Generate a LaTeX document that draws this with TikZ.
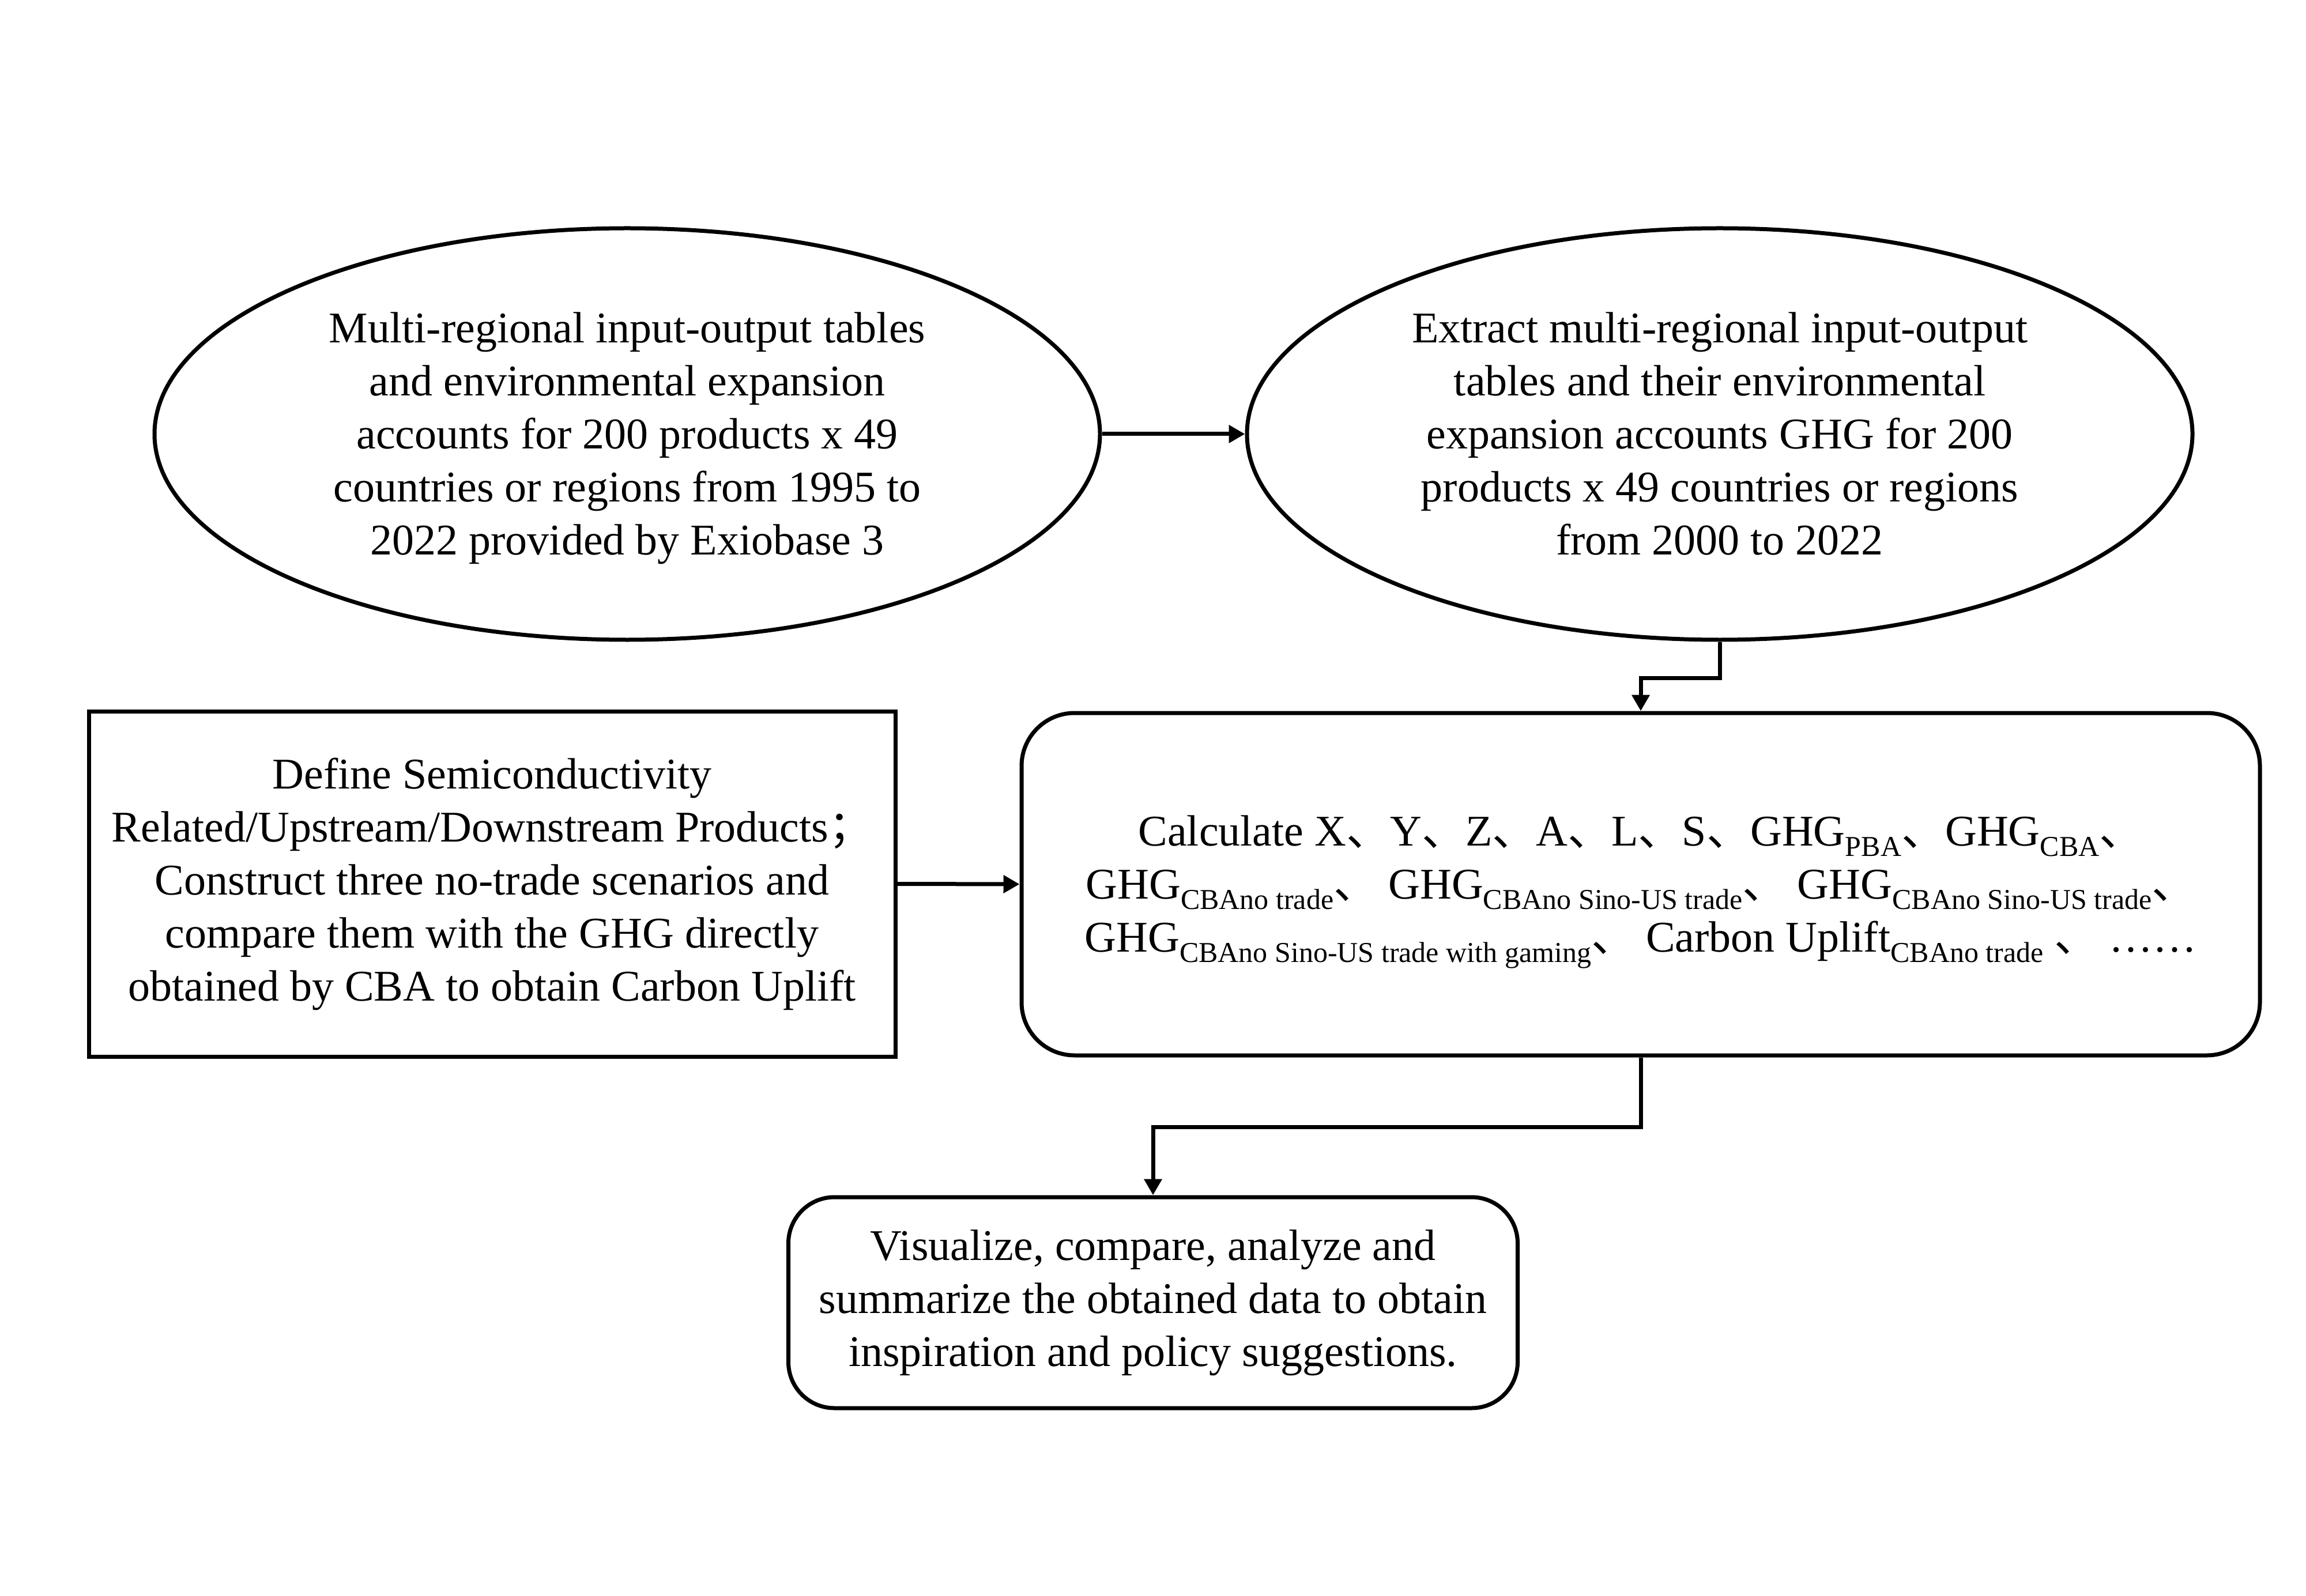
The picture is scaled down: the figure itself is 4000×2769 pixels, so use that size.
\documentclass[tikz,border=0pt]{standalone}
\usepackage{fontspec}
\setmainfont{Liberation Serif}
\newfontfamily\cjk{Noto Sans CJK SC}
\usetikzlibrary{shapes.geometric,arrows.meta}
\newcommand\sbs[1]{\raisebox{-0.24em}{\fontsize{12.5pt}{14pt}\selectfont #1}}
\newcommand\dun{{\cjk 、}}
\begin{document}
\begin{tikzpicture}[x=0.25pt,y=-0.25pt,line width=1.75pt,
  every node/.style={font=\fontsize{19pt}{23pt}\selectfont, align=center, inner sep=0pt},
  ell/.style={draw, ellipse, minimum width=410pt, minimum height=178.5pt},
  sqbox/.style={draw, rectangle, minimum width=349.75pt, minimum height=149.75pt},
  rbox/.style={draw, rectangle, rounded corners=23pt},
  arr/.style={-{Triangle[length=7pt,width=7.5pt]}}]
\path[fill=white,use as bounding box] (0,0) rectangle (4000,2769);

\node[ell] (e1) at (1088,753) {\rule{0pt}{17pt}Multi-regional input-output tables\\
and environmental expansion\\
accounts for 200 products x 49\\
countries or regions from 1995 to\\
2022 provided by Exiobase 3};

\node[ell] (e2) at (2983,753) {Extract multi-regional input-output\\
tables and their environmental\\
expansion accounts GHG for 200\\
products x 49 countries or regions\\
from 2000 to 2022};

\node[sqbox] (def) at (853.5,1533.5) {Define Semiconductivity\\
Related/Upstream/Downstream Products{\cjk ；}\\
Construct three no-trade scenarios and\\
compare them with the GHG directly\\
obtained by CBA to obtain Carbon Uplift};

\node[rbox, minimum width=537pt, minimum height=148.5pt] (calc) at (2846,1534) {%
\rule{0pt}{20pt}Calculate X\dun Y\dun Z\dun A\dun L\dun S\dun GHG\sbs{PBA}\dun GHG\sbs{CBA}\dun\\
GHG\sbs{CBAno trade}\dun{} GHG\sbs{CBAno Sino-US trade}\dun{} GHG\sbs{CBAno Sino-US trade}\dun\\
GHG\sbs{CBAno Sino-US trade with gaming}\dun{} Carbon Uplift\sbs{CBAno trade} \dun{} ……};

\node[rbox, rounded corners=20pt, minimum width=316.25pt, minimum height=91.5pt] (vis) at (2000,2260) {Visualize, compare, analyze and\\
summarize the obtained data to obtain\\
inspiration and policy suggestions.};

\draw[arr] (e1.east) -- (e2.west);
\draw[arr] (def.east) -- (calc.west);
\draw[arr] (e2.south) -- ++(0,63) -| (calc.north);
\draw[arr] (calc.south) -- ++(0,121) -| (vis.north);
\end{tikzpicture}
\end{document}
